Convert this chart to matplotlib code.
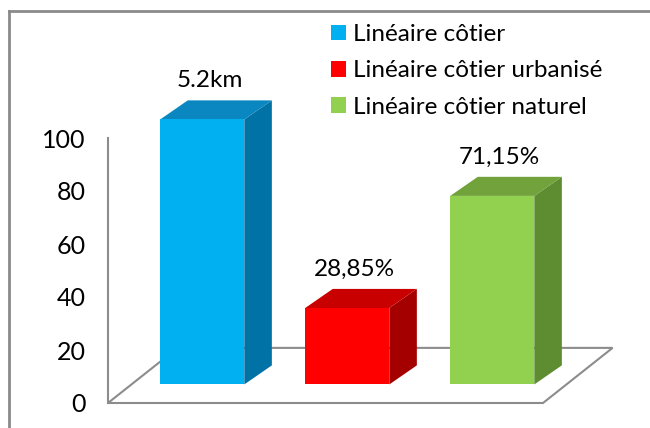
import matplotlib
matplotlib.use("Agg")
import matplotlib.pyplot as plt
from matplotlib.patches import Polygon, Patch
from matplotlib.lines import Line2D

plt.rcParams['font.family'] = ['Lato', 'DejaVu Sans']

# data
categories = ['Linéaire côtier', 'Linéaire côtier urbanisé', 'Linéaire côtier naturel']
values = [100, 28.85, 71.15]
bar_labels = ['5.2km', '28,85%', '71,15%']
yticks = [0, 20, 40, 60, 80, 100]

front_colors = ['#00b0f0', '#ff0000', '#92d050']
top_colors = ['#0a86c0', '#c80000', '#72a23c']
side_colors = ['#0072a6', '#a40000', '#5e8c30']

fig = plt.figure(figsize=(6.5, 4.28), dpi=100)
ax = fig.add_axes([108 / 650, 25 / 428, 435 / 650, 265 / 428])
ax.set_xlim(-0.5, 2.5)
ax.set_ylim(0, 100)

# pseudo 3d geometry (data units)
floor_dx, floor_dy = 0.48, 20.8   # depth of the floor
shift, lift = 0.15, 7.0           # bars stand in the middle of the floor
depth_dx, depth_dy = 0.19, 7.2    # depth of each bar
width = 0.58

floor = Polygon([(-0.5, 0), (2.5, 0), (2.5 + floor_dx, floor_dy), (-0.5 + floor_dx, floor_dy)],
                closed=True, facecolor='white', edgecolor='#8c8c8c', lw=1.5, clip_on=False, zorder=1)
ax.add_patch(floor)

xs = range(len(values))
bars = ax.bar([x + shift for x in xs], values, width=width, bottom=lift,
              color=front_colors, clip_on=False, zorder=3)

for x, v, lab, tc, sc in zip(xs, values, bar_labels, top_colors, side_colors):
    left = x + shift - width / 2
    right = x + shift + width / 2
    top = v + lift
    side = Polygon([(right, lift), (right + depth_dx, lift + depth_dy),
                    (right + depth_dx, top + depth_dy), (right, top)],
                   closed=True, facecolor=sc, edgecolor='none', clip_on=False, zorder=2)
    lid = Polygon([(left, top), (right, top), (right + depth_dx, top + depth_dy),
                   (left + depth_dx, top + depth_dy)],
                  closed=True, facecolor=tc, edgecolor='none', clip_on=False, zorder=2)
    ax.add_patch(side)
    ax.add_patch(lid)
    ax.text(x + shift + 0.05, top + depth_dy + 7.5, lab, ha='center', va='center',
            fontsize=17.5, color='black', clip_on=False)

ax.set_yticks(yticks)
ax.set_xticks([])
ax.tick_params(axis='y', length=0, pad=16, labelsize=18)
for s in ['top', 'right', 'bottom']:
    ax.spines[s].set_visible(False)
ax.spines['left'].set_color('#8c8c8c')
ax.spines['left'].set_linewidth(1.5)
ax.patch.set_alpha(0)

# outer frame (only left and top visible in the crop)
fig.add_artist(Line2D([9 / 650, 9 / 650], [0, 1 - 11 / 428], transform=fig.transFigure,
                      color='#8a8a8a', lw=2))
fig.add_artist(Line2D([9 / 650, 1], [1 - 11 / 428, 1 - 11 / 428], transform=fig.transFigure,
                      color='#8a8a8a', lw=2))

handles = [Patch(facecolor=c, edgecolor='none') for c in front_colors]
fig.legend(handles, categories, loc='upper left', bbox_to_anchor=(331 / 650, 1 - 24 / 428),
           frameon=False, fontsize=17.5, handlelength=0.62, handleheight=0.62,
           handletextpad=0.3, labelspacing=0.63, borderaxespad=0, borderpad=0)

fig.savefig('out.png', dpi=100, facecolor='white')
